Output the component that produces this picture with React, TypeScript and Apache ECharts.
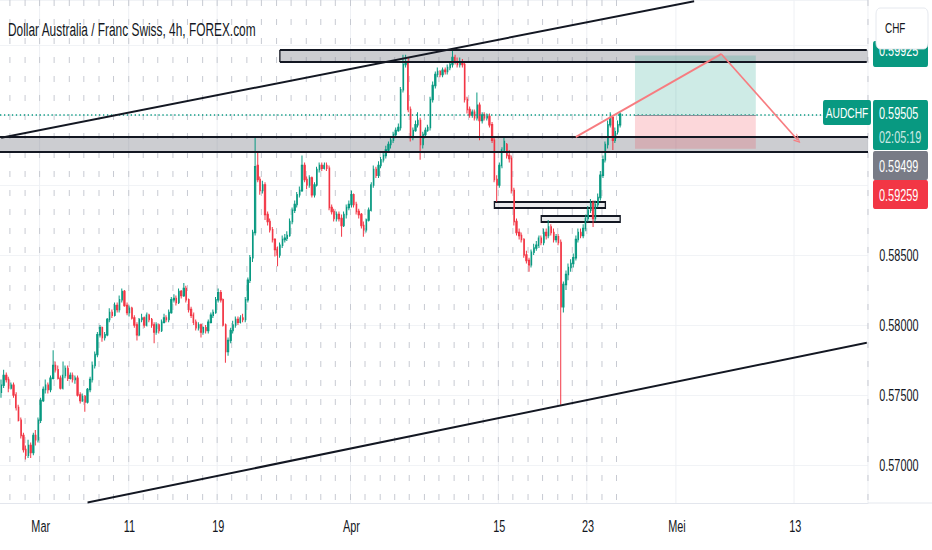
import React, { useEffect, useRef } from 'react';
import * as echarts from 'echarts';

// ---------- data ----------
const tradingDays = [
  '2024-02-27', '2024-02-28', '2024-02-29',
  '2024-03-01', '2024-03-04', '2024-03-05', '2024-03-06', '2024-03-07', '2024-03-08',
  '2024-03-11', '2024-03-12', '2024-03-13', '2024-03-14', '2024-03-15',
  '2024-03-18', '2024-03-19', '2024-03-20', '2024-03-21', '2024-03-22',
  '2024-03-25', '2024-03-26', '2024-03-27', '2024-03-28', '2024-03-29',
  '2024-04-01', '2024-04-02', '2024-04-03', '2024-04-04', '2024-04-05',
  '2024-04-08', '2024-04-09', '2024-04-10', '2024-04-11', '2024-04-12',
  '2024-04-15', '2024-04-16', '2024-04-17', '2024-04-18', '2024-04-19',
  '2024-04-22', '2024-04-23', '2024-04-24', '2024-04-25', '2024-04-26',
  '2024-04-29', '2024-04-30',
  '2024-05-01', '2024-05-02', '2024-05-03',
  '2024-05-06', '2024-05-07', '2024-05-08', '2024-05-09', '2024-05-10',
  '2024-05-13', '2024-05-14', '2024-05-15', '2024-05-16', '2024-05-17',
];
const sessionHours = ['01:00', '05:00', '09:00', '13:00', '17:00', '21:00'];
const hiddenFirstBars = 2;

const axisTickDates = ['2024-03-01', '2024-03-11', '2024-03-19', '2024-04-01', '2024-04-15', '2024-04-23', '2024-05-01', '2024-05-13'];
const axisTickTexts = ['Mar', '11', '19', 'Apr', '15', '23', 'Mei', '13'];

const opens = [
  0.5752, 0.5757, 0.5764, 0.5761, 0.5755, 0.5757, 0.5750, 0.5741, 0.5732, 0.5721,
  0.5711, 0.5707, 0.5714, 0.5709, 0.5721, 0.5718, 0.5732, 0.5746, 0.5754, 0.5757,
  0.5754, 0.5762, 0.5771, 0.5768, 0.5762, 0.5755, 0.5764, 0.5769, 0.5762, 0.5764,
  0.5761, 0.5762, 0.5750, 0.5746, 0.5749, 0.5745, 0.5754, 0.5761, 0.5771, 0.5779,
  0.5793, 0.5798, 0.5791, 0.5793, 0.5804, 0.5809, 0.5807, 0.5814, 0.5811, 0.5818,
  0.5824, 0.5814, 0.5809, 0.5812, 0.5805, 0.5800, 0.5793, 0.5804, 0.5805, 0.5800,
  0.5807, 0.5804, 0.5800, 0.5795, 0.5800, 0.5796, 0.5802, 0.5805, 0.5804, 0.5809,
  0.5818, 0.5819, 0.5816, 0.5824, 0.5821, 0.5826, 0.5818, 0.5811, 0.5807, 0.5802,
  0.5798, 0.5800, 0.5795, 0.5798, 0.5796, 0.5802, 0.5807, 0.5809, 0.5818, 0.5823,
  0.5818, 0.5800, 0.5781, 0.5789, 0.5796, 0.5800, 0.5804, 0.5802, 0.5805, 0.5804,
  0.5818, 0.5832, 0.5848, 0.5866, 0.5914, 0.5904, 0.5896, 0.5900, 0.5879, 0.5874,
  0.5868, 0.5861, 0.5854, 0.5850, 0.5857, 0.5861, 0.5862, 0.5864, 0.5874, 0.5882,
  0.5886, 0.5893, 0.5896, 0.5914, 0.5904, 0.5900, 0.5905, 0.5893, 0.5900, 0.5911,
  0.5914, 0.5912, 0.5914, 0.5912, 0.5884, 0.5881, 0.5876, 0.5879, 0.5876, 0.5871,
  0.5879, 0.5884, 0.5886, 0.5893, 0.5886, 0.5881, 0.5879, 0.5871, 0.5868, 0.5875,
  0.5882, 0.5900, 0.5911, 0.5907, 0.5914, 0.5918, 0.5921, 0.5925, 0.5929, 0.5932,
  0.5936, 0.5939, 0.5941, 0.5968, 0.5986, 0.5988, 0.5954, 0.5934, 0.5939, 0.5943,
  0.5946, 0.5929, 0.5936, 0.5939, 0.5941, 0.5961, 0.5971, 0.5979, 0.5981, 0.5979,
  0.5982, 0.5981, 0.5984, 0.5986, 0.5991, 0.5988, 0.5986, 0.5988, 0.5986, 0.5961,
  0.5954, 0.5950, 0.5952, 0.5948, 0.5957, 0.5946, 0.5950, 0.5948, 0.5949, 0.5943,
  0.5932, 0.5904, 0.5900, 0.5914, 0.5925, 0.5929, 0.5921, 0.5919, 0.5896, 0.5874,
  0.5866, 0.5864, 0.5861, 0.5850, 0.5846, 0.5843, 0.5852, 0.5855, 0.5857, 0.5862,
  0.5859, 0.5866, 0.5864, 0.5870, 0.5866, 0.5861, 0.5863, 0.5859, 0.5813, 0.5829,
  0.5836, 0.5841, 0.5844, 0.5848, 0.5861, 0.5866, 0.5864, 0.5869, 0.5876, 0.5882,
  0.5887, 0.5876, 0.5886, 0.5891, 0.5907, 0.5918, 0.5929, 0.5943, 0.5948, 0.5932,
  0.5938, 0.5943,
];
const closes = [
  0.5757, 0.5764, 0.5761, 0.5755, 0.5757, 0.5750, 0.5741, 0.5732, 0.5721, 0.5711,
  0.5707, 0.5714, 0.5709, 0.5721, 0.5718, 0.5732, 0.5746, 0.5754, 0.5757, 0.5754,
  0.5762, 0.5771, 0.5768, 0.5762, 0.5755, 0.5764, 0.5769, 0.5762, 0.5764, 0.5761,
  0.5762, 0.5750, 0.5746, 0.5749, 0.5745, 0.5754, 0.5761, 0.5771, 0.5779, 0.5793,
  0.5798, 0.5791, 0.5793, 0.5804, 0.5809, 0.5807, 0.5814, 0.5811, 0.5818, 0.5824,
  0.5814, 0.5809, 0.5812, 0.5805, 0.5800, 0.5793, 0.5804, 0.5805, 0.5800, 0.5807,
  0.5804, 0.5800, 0.5795, 0.5800, 0.5796, 0.5802, 0.5805, 0.5804, 0.5809, 0.5818,
  0.5819, 0.5816, 0.5824, 0.5821, 0.5826, 0.5818, 0.5811, 0.5807, 0.5802, 0.5798,
  0.5800, 0.5795, 0.5798, 0.5796, 0.5802, 0.5807, 0.5809, 0.5818, 0.5823, 0.5818,
  0.5800, 0.5781, 0.5789, 0.5796, 0.5800, 0.5804, 0.5802, 0.5805, 0.5804, 0.5818,
  0.5832, 0.5848, 0.5866, 0.5913, 0.5904, 0.5896, 0.5900, 0.5879, 0.5874, 0.5868,
  0.5861, 0.5854, 0.5850, 0.5857, 0.5861, 0.5862, 0.5864, 0.5874, 0.5882, 0.5886,
  0.5893, 0.5896, 0.5914, 0.5904, 0.5900, 0.5905, 0.5893, 0.5900, 0.5911, 0.5914,
  0.5912, 0.5914, 0.5912, 0.5884, 0.5881, 0.5876, 0.5879, 0.5876, 0.5871, 0.5879,
  0.5884, 0.5886, 0.5893, 0.5886, 0.5881, 0.5879, 0.5871, 0.5868, 0.5875, 0.5882,
  0.5900, 0.5911, 0.5907, 0.5914, 0.5918, 0.5921, 0.5925, 0.5929, 0.5932, 0.5936,
  0.5939, 0.5941, 0.5968, 0.5986, 0.5988, 0.5954, 0.5934, 0.5939, 0.5943, 0.5946,
  0.5929, 0.5936, 0.5939, 0.5941, 0.5961, 0.5971, 0.5979, 0.5981, 0.5979, 0.5982,
  0.5981, 0.5984, 0.5986, 0.5991, 0.5988, 0.5986, 0.5988, 0.5986, 0.5961, 0.5954,
  0.5950, 0.5952, 0.5948, 0.5957, 0.5946, 0.5950, 0.5948, 0.5949, 0.5943, 0.5932,
  0.5904, 0.5900, 0.5914, 0.5925, 0.5931, 0.5921, 0.5919, 0.5896, 0.5874, 0.5866,
  0.5864, 0.5861, 0.5850, 0.5846, 0.5843, 0.5852, 0.5855, 0.5857, 0.5862, 0.5859,
  0.5866, 0.5864, 0.5870, 0.5866, 0.5861, 0.5863, 0.5859, 0.5813, 0.5829, 0.5836,
  0.5841, 0.5844, 0.5848, 0.5861, 0.5866, 0.5864, 0.5869, 0.5876, 0.5882, 0.5887,
  0.5876, 0.5886, 0.5891, 0.5907, 0.5918, 0.5929, 0.5943, 0.5948, 0.5932, 0.5938,
  0.5943, 0.59505,
];
const lows = [
  0.5748, 0.5755, 0.5759, 0.5752, 0.5754, 0.5748, 0.5739, 0.5731, 0.5719, 0.5709,
  0.5704, 0.5705, 0.5705, 0.5707, 0.5714, 0.5716, 0.5730, 0.5745, 0.5751, 0.5751,
  0.5752, 0.5761, 0.5766, 0.5761, 0.5754, 0.5754, 0.5762, 0.5760, 0.5761, 0.5759,
  0.5758, 0.5749, 0.5744, 0.5745, 0.5738, 0.5744, 0.5752, 0.5759, 0.5769, 0.5777,
  0.5791, 0.5788, 0.5789, 0.5792, 0.5802, 0.5805, 0.5806, 0.5809, 0.5809, 0.5816,
  0.5813, 0.5807, 0.5806, 0.5804, 0.5798, 0.5789, 0.5792, 0.5802, 0.5798, 0.5799,
  0.5802, 0.5798, 0.5787, 0.5793, 0.5794, 0.5795, 0.5801, 0.5802, 0.5802, 0.5808,
  0.5816, 0.5814, 0.5815, 0.5819, 0.5820, 0.5816, 0.5809, 0.5805, 0.5800, 0.5796,
  0.5796, 0.5791, 0.5793, 0.5794, 0.5794, 0.5801, 0.5805, 0.5808, 0.5816, 0.5816,
  0.5799, 0.5773, 0.5778, 0.5787, 0.5794, 0.5798, 0.5800, 0.5801, 0.5802, 0.5802,
  0.5816, 0.5830, 0.5845, 0.5864, 0.5902, 0.5893, 0.5894, 0.5875, 0.5871, 0.5866,
  0.5859, 0.5849, 0.5842, 0.5848, 0.5855, 0.5859, 0.5860, 0.5863, 0.5872, 0.5880,
  0.5884, 0.5891, 0.5895, 0.5902, 0.5897, 0.5898, 0.5891, 0.5891, 0.5899, 0.5909,
  0.5910, 0.5911, 0.5910, 0.5882, 0.5879, 0.5874, 0.5874, 0.5874, 0.5863, 0.5870,
  0.5876, 0.5882, 0.5884, 0.5884, 0.5879, 0.5876, 0.5869, 0.5863, 0.5866, 0.5874,
  0.5881, 0.5898, 0.5905, 0.5905, 0.5912, 0.5916, 0.5919, 0.5923, 0.5926, 0.5930,
  0.5934, 0.5938, 0.5939, 0.5966, 0.5984, 0.5952, 0.5931, 0.5932, 0.5938, 0.5941,
  0.5918, 0.5926, 0.5934, 0.5938, 0.5939, 0.5959, 0.5969, 0.5977, 0.5977, 0.5977,
  0.5979, 0.5979, 0.5982, 0.5984, 0.5986, 0.5984, 0.5984, 0.5984, 0.5959, 0.5951,
  0.5948, 0.5948, 0.5946, 0.5946, 0.5932, 0.5944, 0.5946, 0.5946, 0.5941, 0.5930,
  0.5902, 0.5888, 0.5898, 0.5912, 0.5924, 0.5919, 0.5916, 0.5894, 0.5871, 0.5864,
  0.5861, 0.5859, 0.5848, 0.5844, 0.5838, 0.5841, 0.5850, 0.5853, 0.5855, 0.5857,
  0.5857, 0.5861, 0.5862, 0.5864, 0.5859, 0.5859, 0.5857, 0.5743, 0.5809, 0.5825,
  0.5832, 0.5838, 0.5841, 0.5846, 0.5859, 0.5862, 0.5862, 0.5867, 0.5874, 0.5880,
  0.5870, 0.5874, 0.5884, 0.5889, 0.5905, 0.5916, 0.5926, 0.5941, 0.5925, 0.5930,
  0.5936, 0.5941,
];
const highs = [
  0.5761, 0.5768, 0.5766, 0.5763, 0.5759, 0.5759, 0.5752, 0.5743, 0.5734, 0.5723,
  0.5714, 0.5718, 0.5716, 0.5723, 0.5725, 0.5734, 0.5748, 0.5756, 0.5761, 0.5759,
  0.5764, 0.5782, 0.5774, 0.5771, 0.5764, 0.5774, 0.5771, 0.5771, 0.5766, 0.5766,
  0.5764, 0.5764, 0.5752, 0.5751, 0.5750, 0.5755, 0.5763, 0.5774, 0.5781, 0.5795,
  0.5800, 0.5799, 0.5795, 0.5805, 0.5812, 0.5811, 0.5816, 0.5816, 0.5821, 0.5826,
  0.5825, 0.5816, 0.5814, 0.5813, 0.5807, 0.5802, 0.5805, 0.5808, 0.5806, 0.5809,
  0.5808, 0.5805, 0.5802, 0.5802, 0.5801, 0.5804, 0.5808, 0.5807, 0.5811, 0.5820,
  0.5822, 0.5821, 0.5826, 0.5825, 0.5830, 0.5828, 0.5819, 0.5813, 0.5809, 0.5804,
  0.5802, 0.5801, 0.5799, 0.5800, 0.5804, 0.5809, 0.5811, 0.5820, 0.5826, 0.5825,
  0.5819, 0.5801, 0.5791, 0.5798, 0.5803, 0.5806, 0.5806, 0.5807, 0.5808, 0.5820,
  0.5834, 0.5850, 0.5868, 0.5934, 0.5924, 0.5906, 0.5903, 0.5902, 0.5881, 0.5876,
  0.5870, 0.5862, 0.5856, 0.5859, 0.5864, 0.5865, 0.5867, 0.5876, 0.5884, 0.5889,
  0.5895, 0.5899, 0.5921, 0.5916, 0.5906, 0.5907, 0.5906, 0.5902, 0.5913, 0.5916,
  0.5916, 0.5916, 0.5916, 0.5914, 0.5886, 0.5883, 0.5881, 0.5881, 0.5879, 0.5881,
  0.5886, 0.5889, 0.5896, 0.5894, 0.5888, 0.5883, 0.5880, 0.5874, 0.5876, 0.5884,
  0.5902, 0.5914, 0.5913, 0.5917, 0.5920, 0.5924, 0.5928, 0.5931, 0.5935, 0.5938,
  0.5941, 0.5944, 0.5970, 0.5993, 0.5993, 0.5991, 0.5956, 0.5941, 0.5946, 0.5952,
  0.5948, 0.5938, 0.5941, 0.5943, 0.5963, 0.5974, 0.5981, 0.5984, 0.5982, 0.5984,
  0.5984, 0.5986, 0.5988, 0.5997, 0.5993, 0.5991, 0.5991, 0.5990, 0.5988, 0.5963,
  0.5956, 0.5954, 0.5954, 0.5966, 0.5959, 0.5952, 0.5952, 0.5951, 0.5951, 0.5945,
  0.5934, 0.5907, 0.5916, 0.5927, 0.5934, 0.5930, 0.5925, 0.5921, 0.5898, 0.5876,
  0.5869, 0.5866, 0.5862, 0.5853, 0.5848, 0.5854, 0.5858, 0.5860, 0.5864, 0.5864,
  0.5869, 0.5869, 0.5875, 0.5872, 0.5869, 0.5865, 0.5865, 0.5861, 0.5831, 0.5839,
  0.5844, 0.5847, 0.5851, 0.5864, 0.5869, 0.5869, 0.5872, 0.5879, 0.5885, 0.5890,
  0.5889, 0.5889, 0.5894, 0.5910, 0.5921, 0.5931, 0.5946, 0.5952, 0.5950, 0.5941,
  0.5946, 0.5952,
];

const lastPrice = 0.59505;
const countdown = '02:05:19';
const targetPrice = 0.59925;
const entryPrice = 0.59499;
const stopPrice = 0.59259;

// chart drawings, in (bar index, price)
const zoneTop = { from: 113, low: 0.59879, high: 0.59964 };
const zoneBand = { low: 0.59236, high: 0.59343 };
const boxOne = { from: 200, to: 245, low: 0.58836, high: 0.58879 };
const boxTwo = { from: 219, to: 251, low: 0.58736, high: 0.58779 };
const channelUpper = [[0, 0.59338], [281, 0.60313]];
const channelLower = [[35, 0.56732], [351, 0.57874]];
const projectionUp = [[233, 0.59343], [292, 0.59936]];
const projectionDown = [[292, 0.59936], [323, 0.59321]];
const positionSpan = { from: 257, to: 306 };

const priceMin = 0.567286;
const priceMax = 0.603214;

// ---------- layout ----------
const W = 1412;
const H = 550;
const SX = 932 / W;
const ux = (v: number) => v / SX;
const FONT = "'Liberation Sans', Arial, sans-serif";
const TEXT = '#131722';
const UP = '#089981';
const DOWN = '#F23645';

export default function App() {
  const ref = useRef<HTMLDivElement>(null);

  useEffect(() => {
    document.body.style.margin = '0';
    const el = ref.current;
    if (!el) return;
    const chart = echarts.init(el, null, { renderer: 'svg' });

    const categories: string[] = [];
    tradingDays.forEach((d) => sessionHours.forEach((h) => categories.push(`${d} ${h}`)));
    categories.splice(0, hiddenFirstBars);
    const lastIdx = categories.length - 1;

    const labelAt: Record<number, string> = {};
    axisTickDates.forEach((d, k) => {
      const idx = categories.indexOf(`${d} ${sessionHours[0]}`);
      if (idx >= 0) labelAt[idx] = axisTickTexts[k];
    });
    const isSessionStart = (i: number) =>
      i < opens.length && categories[i] && categories[i].endsWith(sessionHours[0]);

    const candles = opens.map((o, i) => [o, closes[i], lows[i], highs[i]]);

    const black = { color: '#131722', width: 2, type: 'solid' };
    const redLine = { color: '#F77C80', width: 2, type: 'solid' };
    const zoneFill = 'rgba(120,123,134,0.38)';
    const boxStyle = { color: 'rgba(120,123,134,0.16)', borderColor: '#131722', borderWidth: 2 };

    const seg = (a: number[], b: number[], lineStyle: any, endSymbol?: string) => [
      { coord: a, lineStyle },
      endSymbol ? { coord: b, symbol: endSymbol, symbolSize: [9, 10] } : { coord: b },
    ];

    const tag = (x: number, y: number, w: number, h: number, fill: string, z = 100) => ({
      type: 'rect',
      shape: { x: ux(x), y, width: ux(w), height: h, r: 3 },
      style: { fill },
      z,
    });
    const tagText = (x: number, y: number, text: string, opts: any = {}, z = 101) => ({
      type: 'text',
      x: ux(x),
      y,
      style: {
        text,
        fontSize: 16.5,
        fontFamily: FONT,
        fill: '#ffffff',
        align: 'left',
        verticalAlign: 'middle',
        ...opts,
      },
      z,
    });

    const option: any = {
      animation: false,
      backgroundColor: '#ffffff',
      grid: { left: 0, right: W - ux(868), top: 0, bottom: H - 503, containLabel: false },
      xAxis: [
        {
          type: 'category',
          data: categories,
          boundaryGap: true,
          axisLine: { show: true, lineStyle: { color: '#e0e3eb', width: 1 } },
          axisTick: { show: false },
          axisLabel: {
            interval: (i: number) => labelAt[i] !== undefined,
            formatter: (_v: string, i: number) => labelAt[i] ?? '',
            color: TEXT,
            fontSize: 16.5,
            fontFamily: FONT,
            margin: 15,
            lineHeight: 16,
          },
          splitLine: {
            show: true,
            interval: (i: number) => labelAt[i] !== undefined,
            lineStyle: { color: '#eef0f4', width: 1.5 },
          },
        },
        {
          type: 'category',
          data: categories,
          boundaryGap: true,
          position: 'top',
          axisLine: { show: false },
          axisTick: { show: false },
          axisLabel: { show: false },
          splitLine: {
            show: true,
            interval: (i: number) => !!isSessionStart(i),
            lineStyle: { color: '#c7cad2', width: 1.5, type: [6, 13] },
          },
        },
      ],
      yAxis: {
        type: 'value',
        position: 'right',
        min: priceMin,
        max: priceMax,
        splitNumber: 7,
        axisLine: { show: false },
        axisTick: { show: false },
        splitLine: { show: true, lineStyle: { color: '#eef0f4', width: 1 } },
        axisLabel: {
          showMinLabel: false,
          showMaxLabel: false,
          margin: 17,
          color: TEXT,
          fontSize: 16.5,
          fontFamily: FONT,
          formatter: (v: number) => {
            const onStep = Math.abs(v * 200 - Math.round(v * 200)) < 1e-6;
            return onStep && v < 0.5875 ? v.toFixed(5) : '';
          },
        },
      },
      series: [
        {
          type: 'candlestick',
          name: 'AUDCHF',
          xAxisIndex: 0,
          data: candles,
          barWidth: 1.9,
          itemStyle: {
            color: UP,
            color0: DOWN,
            borderColor: UP,
            borderColor0: DOWN,
            borderWidth: 1.5,
          },
          markArea: {
            silent: true,
            precision: 6,
            label: { show: false },
            data: [
              [{ yAxis: zoneBand.high, itemStyle: { color: zoneFill } }, { yAxis: zoneBand.low }],
              [{ xAxis: zoneTop.from, yAxis: zoneTop.high, itemStyle: { color: zoneFill } }, { yAxis: zoneTop.low }],
              [{ coord: [boxOne.from, boxOne.high], itemStyle: boxStyle }, { coord: [boxOne.to, boxOne.low] }],
              [{ coord: [boxTwo.from, boxTwo.high], itemStyle: boxStyle }, { coord: [boxTwo.to, boxTwo.low] }],
              [
                { coord: [positionSpan.from, targetPrice], itemStyle: { color: 'rgba(8,153,129,0.2)' } },
                { coord: [positionSpan.to, entryPrice] },
              ],
              [
                { coord: [positionSpan.from, entryPrice], itemStyle: { color: 'rgba(242,54,69,0.2)' } },
                { coord: [positionSpan.to, stopPrice] },
              ],
            ],
          },
          markLine: {
            silent: true,
            precision: 6,
            symbol: ['none', 'none'],
            label: { show: false },
            emphasis: { disabled: true },
            data: [
              { yAxis: lastPrice, lineStyle: { color: UP, width: 1.5, type: [2, 4] } },
              { yAxis: zoneBand.high, lineStyle: black },
              { yAxis: zoneBand.low, lineStyle: black },
              seg([zoneTop.from, zoneTop.high], [lastIdx, zoneTop.high], black),
              seg([zoneTop.from, zoneTop.low], [lastIdx, zoneTop.low], black),
              seg([zoneTop.from, zoneTop.high], [zoneTop.from, zoneTop.low], black),
              seg(channelUpper[0], channelUpper[1], black),
              seg(channelLower[0], channelLower[1], black),
              seg([positionSpan.from, entryPrice], [positionSpan.to, entryPrice], {
                color: '#8b8e98',
                width: 1.2,
                type: 'solid',
              }),
              seg(projectionUp[0], projectionUp[1], redLine),
              seg(
                projectionDown[0],
                projectionDown[1],
                redLine,
                'path://M0,10L5,0L10,10L8.4,10L5,3.2L1.6,10Z'
              ),
            ],
          },
        },
      ],
      graphic: [
        {
          type: 'text',
          x: ux(8),
          y: 30,
          style: {
            text: 'Dollar Australia / Franc Swiss, 4h, FOREX.com',
            fontSize: 18,
            fontFamily: FONT,
            fill: TEXT,
            align: 'left',
            verticalAlign: 'middle',
          },
          z: 100,
        },
        {
          type: 'line',
          shape: { x1: ux(868), y1: 503, x2: W, y2: 503 },
          style: { stroke: '#e0e3eb', lineWidth: 1 },
          z: 100,
        },
        tag(873, 41, 55, 26, UP),
        tagText(879, 50, targetPrice.toFixed(5)),
        {
          type: 'rect',
          shape: { x: ux(876), y: 8, width: ux(52), height: 41, r: 6 },
          style: { fill: '#ffffff', stroke: '#e0e3eb', lineWidth: 1 },
          z: 102,
        },
        tagText(885, 28, 'CHF', { fill: TEXT, fontSize: 15 }, 103),
        tag(823, 100, 48, 25, UP),
        tagText(847, 112.5, 'AUDCHF', { fontSize: 15.5, align: 'center' }),
        tag(873, 100, 55, 50, UP),
        tagText(879, 113, lastPrice.toFixed(5)),
        tagText(879, 137, countdown, { fill: 'rgba(255,255,255,0.8)' }),
        tag(873, 151, 55, 29, '#787b86'),
        tagText(879, 166, entryPrice.toFixed(5)),
        tag(873, 180, 55, 29, '#f23645'),
        tagText(879, 195, stopPrice.toFixed(5)),
      ],
    };

    chart.setOption(option);
    return () => chart.dispose();
  }, []);

  return (
    <div style={{ width: 932, height: 550, overflow: 'hidden', position: 'relative', background: '#fff' }}>
      <div
        ref={ref}
        style={{ width: W, height: H, transform: `scaleX(${SX})`, transformOrigin: '0 0' }}
      />
    </div>
  );
}
